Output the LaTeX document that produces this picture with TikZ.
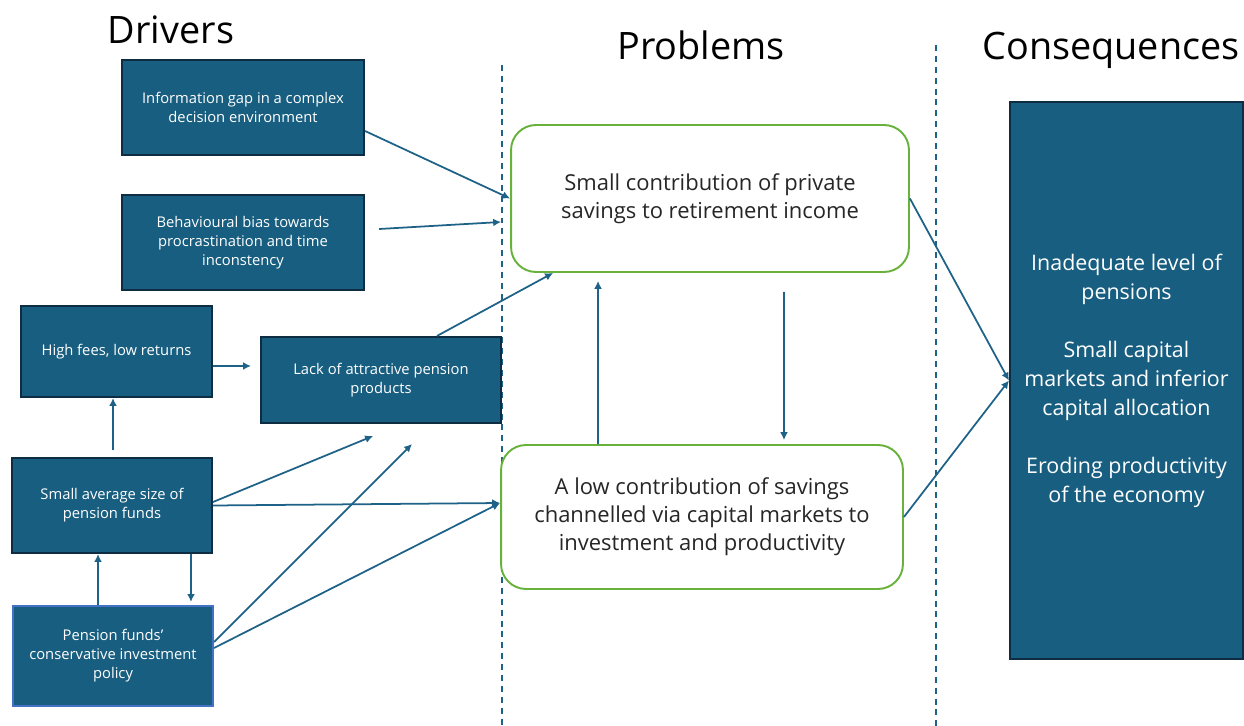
\documentclass[tikz,border=0pt]{standalone}
\usepackage{fontspec}
\setmainfont{Open Sans}
\usepackage{tikz}
\usetikzlibrary{arrows.meta, positioning}

\definecolor{boxblue}{RGB}{24,94,128}
\definecolor{boxedge}{RGB}{14,45,66}
\definecolor{policyedge}{RGB}{68,114,196}
\definecolor{linkblue}{RGB}{31,98,135}
\definecolor{probgreen}{RGB}{104,178,60}

\begin{document}
\begin{tikzpicture}[x=0.02cm, y=-0.02cm,
  driver/.style={draw=boxedge, line width=1.2pt, fill=boxblue, text=white, align=center, inner sep=0pt, font=\fontsize{8.4}{10.8}\selectfont},
  problem/.style={draw=probgreen, line width=1.1pt, rounded corners=0.5cm, fill=white, align=center, inner sep=0pt, text=black!85, font=\fontsize{12.5}{16}\selectfont},
  link/.style={->, >={Latex[length=4.5pt,width=4.5pt]}, draw=linkblue, line width=1pt},
  title/.style={anchor=base, font=\fontsize{21.5}{25}\selectfont}]
% Column positions
\pgfmathsetmacro{\XofLeftSep}{502}
\pgfmathsetmacro{\XofRightSep}{936}

\useasboundingbox (0,0) rectangle (1244,726);

% Draw column separators
\draw[linkblue, line width=1.1pt, dash pattern=on 3.4pt off 2.8pt] (\XofLeftSep,65) -- (\XofLeftSep,726);
\draw[linkblue, line width=1.1pt, dash pattern=on 3.4pt off 2.8pt] (\XofRightSep,45) -- (\XofRightSep,726);

% Headings
\node[title] (hdrivers) at (171,44) {Drivers};
\node[title] (hproblems) at (701,60) {Problems};
\node[title] (hconsq) at (1111,60) {Consequences};

% Drivers
\node[driver, minimum width=4.84cm, minimum height=1.9cm] (info) at (243,107.5) {Information gap in a complex\\decision environment};
\node[driver, minimum width=4.84cm, minimum height=1.9cm] (bias) at (243,242.5) {Behavioural bias towards\\procrastination and time\\inconstency};
\node[driver, minimum width=3.82cm, minimum height=1.82cm] (fees) at (116.5,351.5) {High fees, low returns};
\node[driver, minimum width=4.8cm, minimum height=1.72cm] (lack) at (381,380) {Lack of attractive pension\\products};
\node[driver, minimum width=4.0cm, minimum height=1.9cm] (size) at (112,505.5) {Small average size of\\pension funds};
\node[driver, draw=policyedge, minimum width=4.0cm, minimum height=2.0cm] (policy) at (113,656) {Pension funds’\\conservative investment\\policy};

% Problems
\node[problem, minimum width=7.96cm, minimum height=2.94cm] (retire) at (710,198.5) {Small contribution of private\\savings to retirement income};
\node[problem, minimum width=8.04cm, minimum height=2.88cm] (invest) at (702,517) {A low contribution of savings\\channelled via capital markets to\\investment and productivity};

% Consequences
\node[driver, minimum width=4.66cm, minimum height=11.14cm, font=\fontsize{12.2}{16.5}\selectfont] (consq) at (1126.5,380.5) {Inadequate level of\\pensions\\[16.5pt]Small capital\\markets and inferior\\capital allocation\\[16.5pt]Eroding productivity\\of the economy};

% Loose ends below the products box
\coordinate (lackinA) at (373,436);
\coordinate (lackinB) at (412,444);

% Drivers to problems
\draw[link] ([yshift=-0.47cm]info.east) -- (retire.west);
\draw[link] ([xshift=0.28cm, yshift=0.27cm]bias.east) -- ([xshift=-0.18cm, yshift=-0.47cm]retire.west);
\draw[link] ([xshift=1.12cm]lack.north) -- ([xshift=-3.14cm]retire.south);
\draw[link] ([yshift=-0.29cm]fees.east) -- ([xshift=-0.18cm, yshift=0.28cm]lack.west);
\draw[link] ([xshift=0.02cm, yshift=0.14cm]size.north) -- ([xshift=-0.07cm]fees.south);
\draw[link] ([yshift=0.07cm]size.east) -- (lackinA);
\draw[link] (size.east) -- ([yshift=0.28cm]invest.west);
\draw[link] ([xshift=-0.3cm]policy.north) -- ([xshift=-0.28cm]size.south);
\draw[link] ([xshift=1.58cm]size.south) -- ([xshift=1.56cm, yshift=0.06cm]policy.north);
\draw[link] ([yshift=0.28cm]policy.east) -- (lackinB);
\draw[link] ([yshift=0.16cm]policy.east) -- ([yshift=0.28cm]invest.west);

% Between the problems
\draw[link] ([xshift=-2.08cm]invest.north) -- ([xshift=-2.24cm, yshift=-0.16cm]retire.south);
\draw[link] ([xshift=1.48cm, yshift=-0.38cm]retire.south) -- ([xshift=1.64cm, yshift=0.08cm]invest.north);

% Problems to consequences
\draw[link] (retire.east) -- (consq.west);
\draw[link] (invest.east) -- (consq.west);

\end{tikzpicture}
\end{document}
